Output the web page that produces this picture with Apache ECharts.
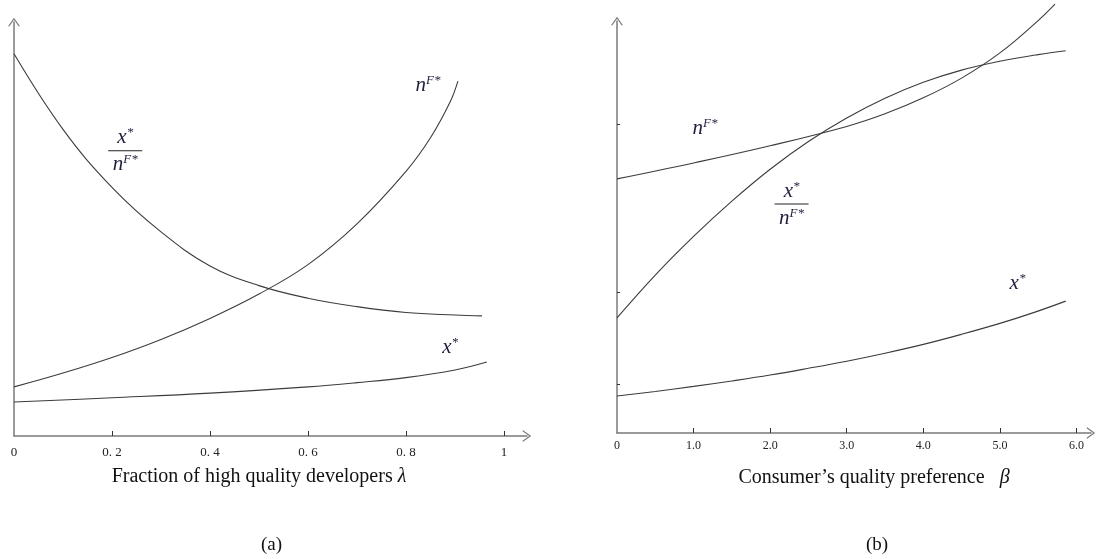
<!DOCTYPE html>
<html>
<head>
<meta charset="utf-8">
<script src="https://cdn.jsdelivr.net/npm/echarts@6/dist/echarts.min.js"></script>
<style>
  html, body { margin: 0; padding: 0; background: #fff; }
  #chart { width: 1101px; height: 559px; }
</style>
</head>
<body>
<div id="chart"></div>
<script>
// panel (a): fraction of high quality developers
var lamTicks = [0, 0.2, 0.4, 0.6, 0.8, 1]
var lamTickText = ['0', '0. 2', '0. 4', '0. 6', '0. 8', '1']
var ratioLamX = [0, 0.1, 0.2, 0.3, 0.4, 0.5, 0.6, 0.7, 0.8, 0.9, 0.955]
var ratioLamY = [9.10, 7.30, 5.92, 4.86, 4.05, 3.58, 3.28, 3.08, 2.94, 2.88, 2.86]
var nLamX = [0, 0.1, 0.2, 0.3, 0.4, 0.5, 0.6, 0.7, 0.8, 0.85, 0.89, 0.906]
var nLamY = [1.17, 1.50, 1.87, 2.30, 2.80, 3.38, 4.08, 5.05, 6.30, 7.10, 7.95, 8.45]
var xLamX = [0, 0.2, 0.4, 0.6, 0.7, 0.8, 0.9, 0.965]
var xLamY = [0.81, 0.91, 1.02, 1.17, 1.27, 1.39, 1.57, 1.76]

// panel (b): consumer's quality preference
var betaTicks = [0, 1, 2, 3, 4, 5, 6]
var betaTickText = ['0', '1.0', '2.0', '3.0', '4.0', '5.0', '6.0']
var betaYTicks = [1.17, 3.36, 7.36]
var nBetaX = [0, 1, 2, 3, 3.5, 4, 4.5, 5, 5.5, 5.72]
var nBetaY = [6.05, 6.43, 6.84, 7.30, 7.60, 7.98, 8.45, 9.05, 9.82, 10.21]
var ratioBetaX = [0, 0.5, 1, 1.5, 2, 2.5, 3, 3.5, 4, 4.5, 5, 5.5, 5.86]
var ratioBetaY = [2.74, 3.76, 4.68, 5.52, 6.28, 6.94, 7.50, 7.97, 8.35, 8.64, 8.85, 9.01, 9.10]
var xBetaX = [0, 0.5, 1, 1.5, 2, 2.5, 3, 3.5, 4, 4.5, 5, 5.43, 5.86]
var xBetaY = [0.88, 0.99, 1.11, 1.24, 1.38, 1.54, 1.71, 1.90, 2.11, 2.35, 2.61, 2.86, 3.14]

function pairs (xs, ys) {
  return xs.map(function (x, i) { return [x, ys[i]] })
}

var chevron = 'path://M0,0 L10,14 L7.6,14 L0,3.4 L-7.6,14 L-10,14 Z'
var axisColor = '#7a7a7a'
var curveColor = '#3c3c3c'
var serif = 'Liberation Serif'
var ink = '#1e1e3c'

var mathRich = {
  i: { fontFamily: serif, fontStyle: 'italic', fontSize: 21, color: ink, lineHeight: 22, verticalAlign: 'bottom' },
  s: { fontFamily: serif, fontStyle: 'italic', fontSize: 13, color: ink, lineHeight: 12, verticalAlign: 'top' },
  bar: { width: 34, height: 1, lineHeight: 5, backgroundColor: '#222' }
}
var labelN = '{i|n}{s|F*}'
var labelX = '{i|x}{s|*}'
var labelFrac = '{i|x}{s|*}\n{bar| }\n{i|n}{s|F*}'

function tag (coord, text) {
  return {
    coord: coord,
    symbol: 'circle',
    symbolSize: 1,
    itemStyle: { color: 'transparent' },
    label: { show: true, position: 'inside', formatter: text, rich: mathRich, align: 'center' }
  }
}

function curve (grid, xs, ys, tags, clip) {
  return {
    type: 'line',
    xAxisIndex: grid,
    yAxisIndex: grid,
    data: pairs(xs, ys),
    smooth: 0.4,
    showSymbol: false,
    clip: clip,
    silent: true,
    lineStyle: { color: curveColor, width: 1.1 },
    markPoint: { silent: true, animation: false, data: tags }
  }
}

function arrowLine (size) {
  return { show: true, lineStyle: { color: axisColor, width: 1.5 }, symbol: ['none', chevron], symbolSize: size }
}

var chart = echarts.init(document.getElementById('chart'))
chart.setOption({
  animation: false,
  backgroundColor: '#fff',
  grid: [
    { left: 14, top: 22, width: 513, height: 414 },
    { left: 617, top: 21, width: 474, height: 412 }
  ],
  xAxis: [
    {
      type: 'value', gridIndex: 0, min: 0, max: 1.047,
      name: 'Fraction of high quality developers {g|λ}',
      nameLocation: 'middle', nameGap: 31,
      nameTextStyle: {
        fontFamily: serif, fontSize: 20, color: '#111', padding: [0, 23, 0, 0],
        rich: { g: { fontFamily: serif, fontStyle: 'italic', fontSize: 20, color: '#111' } }
      },
      axisLine: arrowLine([12, 18]),
      axisTick: { show: true, inside: true, length: 5, lineStyle: { color: '#333' }, customValues: lamTicks.slice(1) },
      axisLabel: {
        customValues: lamTicks, margin: 10, fontFamily: serif, fontSize: 13, color: '#222',
        formatter: function (v) { return lamTickText[lamTicks.indexOf(Math.round(v * 10) / 10)] }
      },
      splitLine: { show: false }
    },
    {
      type: 'value', gridIndex: 1, min: 0, max: 6.19,
      name: 'Consumer’s quality preference   {g|β}',
      nameLocation: 'middle', nameGap: 35,
      nameTextStyle: {
        fontFamily: serif, fontSize: 20, color: '#111', padding: [0, 0, 0, 40],
        rich: { g: { fontFamily: serif, fontStyle: 'italic', fontSize: 20, color: '#111' } }
      },
      axisLine: arrowLine([12, 18]),
      axisTick: { show: true, inside: true, length: 5, lineStyle: { color: '#333' }, customValues: betaTicks.slice(1) },
      axisLabel: {
        customValues: betaTicks, margin: 7, fontFamily: serif, fontSize: 12, color: '#222',
        formatter: function (v) { return betaTickText[betaTicks.indexOf(Math.round(v))] }
      },
      splitLine: { show: false }
    }
  ],
  yAxis: [
    {
      type: 'value', gridIndex: 0, min: 0, max: 9.857,
      axisLine: arrowLine([12, 14]),
      axisTick: { show: false },
      axisLabel: { show: false },
      splitLine: { show: false }
    },
    {
      type: 'value', gridIndex: 1, min: 0, max: 9.81,
      axisLine: arrowLine([12, 14]),
      axisTick: { show: true, inside: true, length: 3, lineStyle: { color: '#333' }, customValues: betaYTicks },
      axisLabel: { show: false },
      splitLine: { show: false }
    }
  ],
  graphic: [
    { type: 'text', left: 261, top: 536, style: { text: '(a)', font: '19px "Liberation Serif"', fill: '#111' } },
    { type: 'text', left: 866, top: 536, style: { text: '(b)', font: '19px "Liberation Serif"', fill: '#111' } }
  ],
  series: [
    curve(0, ratioLamX, ratioLamY, [tag([0.227, 6.79], labelFrac)], true),
    curve(0, nLamX, nLamY, [tag([0.845, 8.36], labelN)], true),
    curve(0, xLamX, xLamY, [tag([0.89, 2.12], labelX)], true),
    curve(1, nBetaX, nBetaY, [tag([1.15, 7.26], labelN)], false),
    curve(1, ratioBetaX, ratioBetaY, [tag([2.28, 5.45], labelFrac)], true),
    curve(1, xBetaX, xBetaY, [tag([5.23, 3.57], labelX)], true)
  ]
})
</script>
</body>
</html>
